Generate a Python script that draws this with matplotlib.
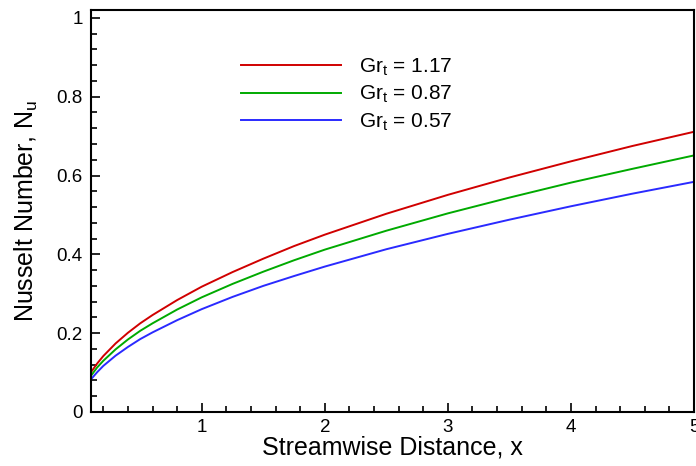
import matplotlib
matplotlib.use("Agg")
import matplotlib.pyplot as plt
from matplotlib.ticker import MultipleLocator, FixedLocator

plt.rcParams['font.family'] = ['Liberation Sans', 'DejaVu Sans']
plt.rcParams['mathtext.fontset'] = 'custom'
plt.rcParams['mathtext.rm'] = 'Liberation Sans'
plt.rcParams['mathtext.it'] = 'Liberation Sans'

# values
x = [0.1, 0.15, 0.2, 0.3, 0.4, 0.5, 0.6, 0.8, 1.0, 1.25, 1.5, 1.75,
     2.0, 2.5, 3.0, 3.5, 4.0, 4.5, 5.0]
nu_117 = [0.101, 0.123, 0.142, 0.174, 0.201, 0.225, 0.246, 0.284, 0.318, 0.355,
          0.389, 0.421, 0.450, 0.503, 0.551, 0.595, 0.636, 0.675, 0.711]
nu_087 = [0.092, 0.113, 0.130, 0.159, 0.184, 0.206, 0.225, 0.260, 0.291, 0.325,
          0.356, 0.385, 0.412, 0.460, 0.504, 0.544, 0.582, 0.617, 0.651]
nu_057 = [0.083, 0.101, 0.117, 0.143, 0.165, 0.185, 0.202, 0.233, 0.261, 0.292,
          0.320, 0.345, 0.369, 0.413, 0.452, 0.488, 0.522, 0.554, 0.584]
labels = [r'Gr$_\mathregular{t}$ = 1.17', r'Gr$_\mathregular{t}$ = 0.87',
          r'Gr$_\mathregular{t}$ = 0.57']
colors = ['#d00000', '#00aa00', '#2a2aff']

fig = plt.figure(figsize=(6.96, 4.66), dpi=100)
ax = fig.add_axes([91 / 696, 54 / 466, 603 / 696, 402 / 466])

for y, lab, c in zip([nu_117, nu_087, nu_057], labels, colors):
    ax.plot(x, y, color=c, linewidth=1.4, label=lab)

ax.set_xlim(0.1, 5)
ax.set_ylim(0, 1.02)

ax.xaxis.set_major_locator(FixedLocator([1, 2, 3, 4, 5]))
ax.xaxis.set_minor_locator(MultipleLocator(0.2))
ax.yaxis.set_major_locator(FixedLocator([0, 0.2, 0.4, 0.6, 0.8, 1.0]))
ax.yaxis.set_minor_locator(MultipleLocator(0.04))
ax.set_yticklabels(['0', '0.2', '0.4', '0.6', '0.8', '1'])

ax.tick_params(which='both', direction='in', labelsize=13.5, width=1.2)
ax.tick_params(which='major', length=6.5)
ax.tick_params(which='minor', length=4)
ax.tick_params(axis='y', pad=6)
ax.tick_params(axis='x', pad=5)
for s in ax.spines.values():
    s.set_linewidth(1.5)

ax.set_xlabel('Streamwise Distance, x', fontsize=18, labelpad=0)
ax.set_ylabel(r'Nusselt Number, N$_\mathregular{u}$', fontsize=18, labelpad=12)

ax.legend(loc='upper left', bbox_to_anchor=(0.235, 0.905), frameon=False,
          fontsize=15, handlelength=4.8, handletextpad=0.85, labelspacing=0.3,
          borderaxespad=0)

fig.savefig('out.png', dpi=100)
